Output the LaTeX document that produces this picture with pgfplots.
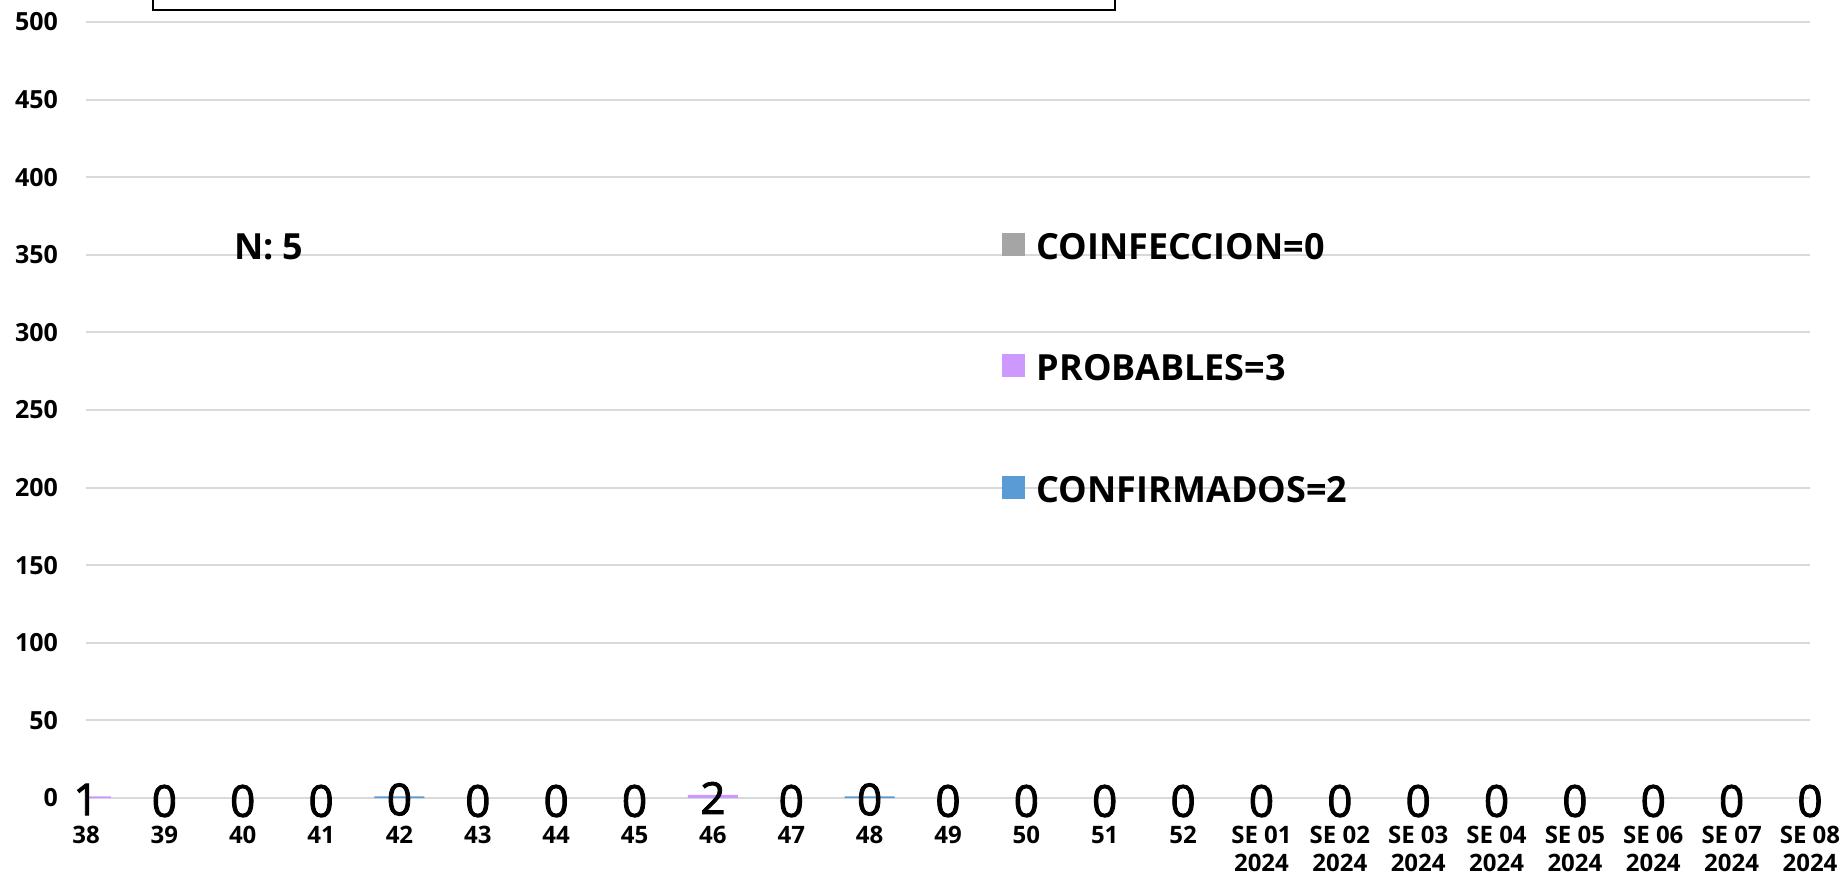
\documentclass[border=0pt]{standalone}
\usepackage{pgfplots}
\pgfplotsset{compat=1.18}
\usepackage{pgfplotstable}
\usepackage{fontspec}
\setmainfont{Open Sans}
\newfontfamily\lblfont[UprightFeatures={FakeBold=2}]{Open Sans}
\definecolor{conf}{HTML}{5B9BD5}
\definecolor{prob}{HTML}{CC99FF}
\definecolor{coinf}{HTML}{A5A5A5}
\definecolor{gridc}{HTML}{D9D9D9}

% top = height of the stack under the PROBABLES label
\pgfplotstableread{
x conf prob coinf top
0 0 1 0 1
1 0 0 0 0
2 0 0 0 0
3 0 0 0 0
4 1 0 0 1
5 0 0 0 0
6 0 0 0 0
7 0 0 0 0
8 0 2 0 2
9 0 0 0 0
10 1 0 0 1
11 0 0 0 0
12 0 0 0 0
13 0 0 0 0
14 0 0 0 0
15 0 0 0 0
16 0 0 0 0
17 0 0 0 0
18 0 0 0 0
19 0 0 0 0
20 0 0 0 0
21 0 0 0 0
22 0 0 0 0
}\data

\begin{document}
\begin{tikzpicture}
\begin{axis}[
  at={(0,0)}, anchor=south west,
  width=862pt, height=388pt, scale only axis,
  ybar stacked, bar width=25pt,
  xmin=0, xmax=22, ymin=0, ymax=500,
  ytick={0,50,...,500},
  xtick={0,...,22},
  xticklabels={38,39,40,41,42,43,44,45,46,47,48,49,50,51,52,
    {SE 01\\2024},{SE 02\\2024},{SE 03\\2024},{SE 04\\2024},
    {SE 05\\2024},{SE 06\\2024},{SE 07\\2024},{SE 08\\2024}},
  axis line style={draw=none},
  major tick length=0pt,
  ymajorgrids, grid style={gridc, line width=1pt},
  clip mode=individual,
  /pgf/number format/assume math mode=true,
  yticklabel style={font=\bfseries\fontsize{12.5}{14}\selectfont, xshift=-10.5pt},
  xticklabel style={font=\bfseries\fontsize{12}{14}\selectfont, align=center, yshift=-10.5pt},
  reverse legend,
  legend cell align=left,
  legend style={at={(axis cs:11.68,364.5)}, anchor=north west,
    draw=none, fill=none, inner sep=0pt,
    nodes={inner sep=0pt},
    row sep=46pt, column sep=6pt,
    font=\bfseries\fontsize{18}{21}\selectfont},
  legend image code/.code={\fill[#1] (0pt,-4pt) rectangle (11.5pt,7.5pt);},
]
\addplot[fill=conf, draw=none] table[x=x, y=conf] {\data};
\addlegendentry{CONFIRMADOS=2}
\addplot[fill=prob, draw=none] table[x=x, y=prob] {\data};
\addlegendentry{PROBABLES=3}
\addplot[fill=coinf, draw=none] table[x=x, y=coinf] {\data};
\addlegendentry{COINFECCION=0}
\node[anchor=west, font=\bfseries\fontsize{18}{21}\selectfont] at (axis cs:1.80,355) {N: 5};
\end{axis}
% overlay axis for the PROBABLES value labels (zero values included)
\begin{axis}[
  at={(0,0)}, anchor=south west,
  width=862pt, height=388pt, scale only axis,
  xmin=0, xmax=22, ymin=0, ymax=500,
  hide axis, clip=false,
  /pgf/number format/assume math mode=true,
]
\addplot[draw=none, mark=none,
  nodes near coords, point meta=explicit,
  every node near coord/.append style={anchor=center, yshift=-1.5pt,
    font=\lblfont\fontsize{22}{25}\selectfont, text=black}]
  table[x=x, y=top, meta=prob] {\data};
\end{axis}
\draw[line width=1pt] (33.5pt,394pt) rectangle (514.5pt,450pt);
\pgfresetboundingbox
\path[use as bounding box] (-43pt,-38pt) rectangle (878pt,399pt);
\end{tikzpicture}
\end{document}
